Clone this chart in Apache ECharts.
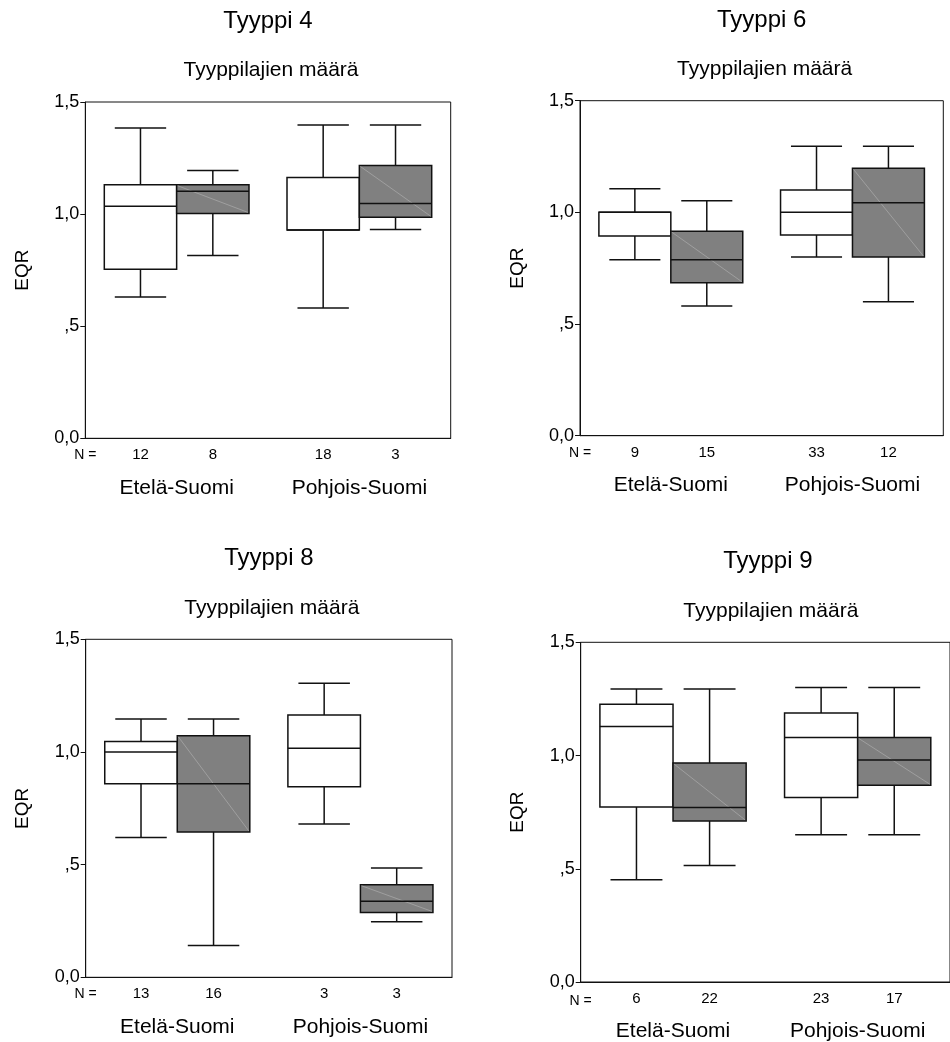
<!DOCTYPE html>
<html>
<head>
<meta charset="utf-8">
<script src="https://cdn.jsdelivr.net/npm/echarts@6/dist/echarts.min.js"></script>
<style>
  html, body { margin: 0; padding: 0; background: #fff; }
  #chart { width: 950px; height: 1042px; }
</style>
</head>
<body>
<div id="chart"></div>
<script>
// Regions on the category axis
const categories = ['Etelä-Suomi', 'Pohjois-Suomi'];
const panelTitles = ['Tyyppi 4', 'Tyyppi 6', 'Tyyppi 8', 'Tyyppi 9'];
const subtitle = 'Tyyppilajien määrä';
const yAxisName = 'EQR';
const yTicks = [0, 0.5, 1.0, 1.5];
const yTickLabels = ['0,0', ',5', '1,0', '1,5'];

// Five-number summaries [min, Q1, median, Q3, max], one row per region
const tyyppi4White = [[0.630, 0.754, 1.035, 1.131, 1.384], [0.581, 0.929, 0.929, 1.163, 1.397]];
const tyyppi4Grey  = [[0.815, 1.003, 1.102, 1.131, 1.195], [0.931, 0.986, 1.047, 1.217, 1.397]];
const tyyppi4WhiteN = [12, 18];
const tyyppi4GreyN  = [8, 3];

const tyyppi6White = [[0.788, 0.894, 1.000, 1.000, 1.106], [0.800, 0.899, 1.000, 1.100, 1.296]];
const tyyppi6Grey  = [[0.581, 0.685, 0.788, 0.916, 1.052], [0.600, 0.800, 1.043, 1.197, 1.296]];
const tyyppi6WhiteN = [9, 33];
const tyyppi6GreyN  = [15, 12];

const tyyppi8White = [[0.620, 0.859, 1.000, 1.047, 1.146], [0.680, 0.846, 1.016, 1.164, 1.305]];
const tyyppi8Grey  = [[0.141, 0.645, 0.859, 1.072, 1.146], [0.246, 0.288, 0.337, 0.411, 0.485]];
const tyyppi8WhiteN = [13, 3];
const tyyppi8GreyN  = [16, 3];

const tyyppi9White = [[0.452, 0.773, 1.128, 1.226, 1.294], [0.650, 0.815, 1.080, 1.188, 1.300]];
const tyyppi9Grey  = [[0.514, 0.711, 0.771, 0.967, 1.294], [0.650, 0.869, 0.980, 1.080, 1.300]];
const tyyppi9WhiteN = [6, 23];
const tyyppi9GreyN  = [22, 17];

const panels = [
  { white: tyyppi4White, grey: tyyppi4Grey, whiteN: tyyppi4WhiteN, greyN: tyyppi4GreyN },
  { white: tyyppi6White, grey: tyyppi6Grey, whiteN: tyyppi6WhiteN, greyN: tyyppi6GreyN },
  { white: tyyppi8White, grey: tyyppi8Grey, whiteN: tyyppi8WhiteN, greyN: tyyppi8GreyN },
  { white: tyyppi9White, grey: tyyppi9Grey, whiteN: tyyppi9WhiteN, greyN: tyyppi9GreyN }
];

// Plot areas of the four panels
const grids = [
  { left: 85.3,  top: 102.0, width: 365.4, height: 336.3 },
  { left: 580.0, top: 100.7, width: 363.3, height: 335.0 },
  { left: 85.7,  top: 639.3, width: 366.3, height: 338.0 },
  { left: 580.7, top: 642.3, width: 374.3, height: 341.7 }
];

const FONT = "'Liberation Sans', Arial, sans-serif";
const INK = '#111';

// Side-by-side box pair inside one category band: side -1 = left box, +1 = right box
function boxRenderer(side, fill, diagonal) {
  return function (params, api) {
    const cat = api.value(0);
    const band = api.size([1, 0])[0];
    const w = band * 0.396;
    const base = api.coord([cat, 0]);
    const cx = base[0] + side * w / 2;
    const yOf = (i) => api.coord([cat, api.value(i)])[1];
    const yMin = yOf(1), yQ1 = yOf(2), yMed = yOf(3), yQ3 = yOf(4), yMax = yOf(5);
    const x0 = cx - w / 2, x1 = cx + w / 2;
    const cap = w * 0.71 / 2;
    const stroke = { stroke: INK, lineWidth: 1.5 };
    const children = [
      { type: 'line', shape: { x1: cx, y1: yMax, x2: cx, y2: yQ3 }, style: stroke },
      { type: 'line', shape: { x1: cx, y1: yQ1, x2: cx, y2: yMin }, style: stroke },
      { type: 'line', shape: { x1: cx - cap, y1: yMax, x2: cx + cap, y2: yMax }, style: stroke },
      { type: 'line', shape: { x1: cx - cap, y1: yMin, x2: cx + cap, y2: yMin }, style: stroke },
      { type: 'rect', shape: { x: x0, y: yQ3, width: w, height: yQ1 - yQ3 },
        style: { fill: fill, stroke: INK, lineWidth: 1.5 } }
    ];
    if (diagonal) {
      children.push({ type: 'line', shape: { x1: x0 + 1, y1: yQ3 + 1, x2: x1 - 1, y2: yQ1 - 1 },
        style: { stroke: '#b4b4b4', lineWidth: 0.6 } });
    }
    children.push({ type: 'line', shape: { x1: x0, y1: yMed, x2: x1, y2: yMed }, style: stroke });
    children.push({ type: 'text', style: {
      text: String(api.value(6)), x: cx, y: base[1] + 17,
      align: 'center', verticalAlign: 'middle', fill: '#000',
      font: '15px ' + FONT } });
    return { type: 'group', children: children };
  };
}

function rows(summaries, counts) {
  return summaries.map((s, i) => [i].concat(s, [counts[i]]));
}

const option = {
  animation: false,
  backgroundColor: '#fff',
  grid: grids.map(g => Object.assign({ show: true, borderColor: INK, borderWidth: 1,
    backgroundColor: 'transparent', containLabel: false }, g)),
  xAxis: grids.map((g, i) => ({
    type: 'category', gridIndex: i, data: categories, boundaryGap: true,
    axisLine: { lineStyle: { color: INK, width: 1 } },
    axisTick: { alignWithLabel: true, length: 5, lineStyle: { color: INK } },
    axisLabel: { margin: 39, fontSize: 21, color: '#000', fontFamily: FONT },
    splitLine: { show: false }
  })),
  yAxis: grids.map((g, i) => ({
    type: 'value', gridIndex: i, min: 0, max: 1.5, interval: 0.5,
    name: yAxisName, nameLocation: 'middle', nameGap: 53,
    nameTextStyle: { fontSize: 19, color: '#000', fontFamily: FONT },
    axisLine: { show: true, lineStyle: { color: INK, width: 1 } },
    axisTick: { show: true, length: 5, lineStyle: { color: INK } },
    axisLabel: { margin: 6, fontSize: 18, color: '#000', fontFamily: FONT,
      formatter: function (v) {
        let best = 0;
        yTicks.forEach((t, k) => { if (Math.abs(t - v) < Math.abs(yTicks[best] - v)) best = k; });
        return yTickLabels[best];
      } },
    splitLine: { show: false }
  })),
  series: [],
  graphic: []
};

panels.forEach((p, i) => {
  option.series.push({
    type: 'custom', xAxisIndex: i, yAxisIndex: i,
    renderItem: boxRenderer(-1, '#ffffff', false),
    encode: { x: 0, y: [1, 2, 3, 4, 5] },
    data: rows(p.white, p.whiteN)
  });
  option.series.push({
    type: 'custom', xAxisIndex: i, yAxisIndex: i,
    renderItem: boxRenderer(1, '#808080', true),
    encode: { x: 0, y: [1, 2, 3, 4, 5] },
    data: rows(p.grey, p.greyN)
  });
});

grids.forEach((g, i) => {
  const cx = g.left + g.width / 2;
  option.graphic.push({ type: 'text', x: cx, y: g.top - 80.5,
    style: { text: panelTitles[i], font: '24px ' + FONT, fill: '#000',
      align: 'center', verticalAlign: 'middle' } });
  option.graphic.push({ type: 'text', x: cx + 3, y: g.top - 31.5,
    style: { text: subtitle, font: '21px ' + FONT, fill: '#000',
      align: 'center', verticalAlign: 'middle' } });
  option.graphic.push({ type: 'text', x: g.left, y: g.top + g.height + 17,
    style: { text: 'N =', font: '14px ' + FONT, fill: '#000',
      align: 'center', verticalAlign: 'middle' } });
});

const chart = echarts.init(document.getElementById('chart'), null, { renderer: 'canvas' });
chart.setOption(option);
</script>
</body>
</html>
